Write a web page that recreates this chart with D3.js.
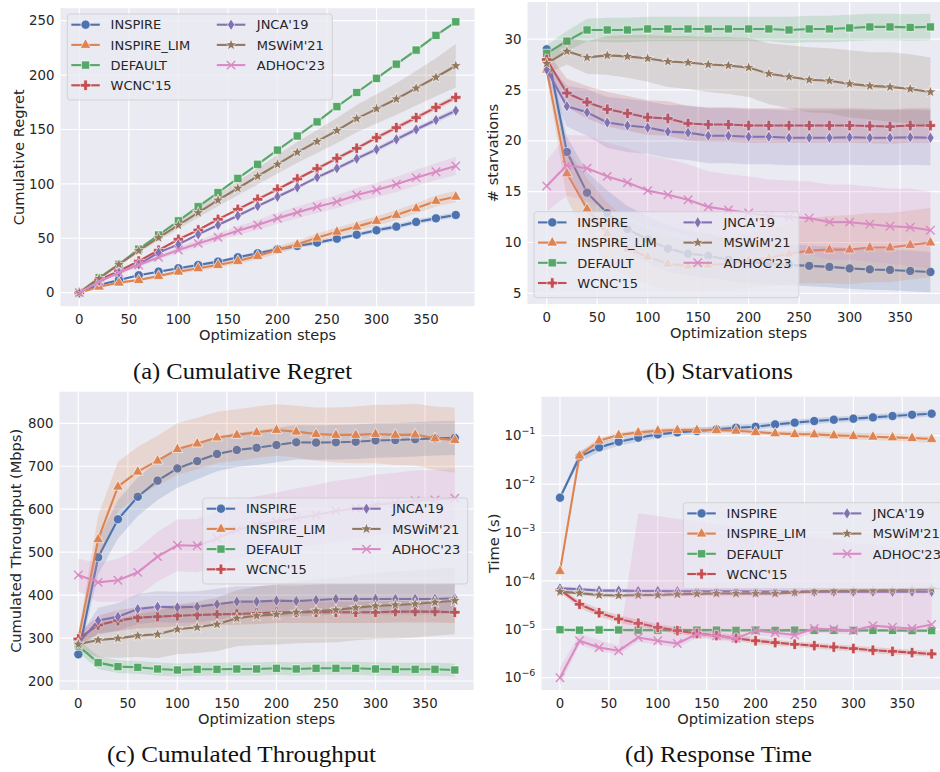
<!DOCTYPE html>
<html><head><meta charset="utf-8">
<script src="https://cdn.jsdelivr.net/npm/d3@7"></script>
<style>body{margin:0;background:#fff}svg{display:block}</style>
</head><body>
<svg id="chart" width="940" height="772"></svg>
<script>
// ---------------- DATA ----------------
const steps = [0,20,40,60,80,100,120,140,160,180,200,220,240,260,280,300,320,340,360,380];
const methods = ["INSPIRE","INSPIRE_LIM","DEFAULT","WCNC'15","JNCA'19","MSWiM'21","ADHOC'23"];
const methodColors = ["#4c72b0","#dd8452","#55a868","#c44e52","#8172b3","#937860","#da8bc3"];
const methodMarkers = ["o","^","s","P","d","*","x"];
const xTicks = [0,50,100,150,200,250,300,350];

// (a) Cumulative Regret
const regretMean = [
  [0.3,7,11.6,16,19.3,22.4,25.4,28.5,32.5,36.2,39.8,42.9,46,49.6,53.3,57.3,60.7,65,68.3,71.4],
  [0,5.5,9.2,11.6,15.3,19.3,22.4,25.4,29.1,33.7,39.2,44.4,50.5,56,60.7,65.9,71.4,77.5,84.3,88.2],
  [0,13.8,26,40,53,66,79,92,105,118,131,144,157,171,184,197,210,223,236.5,249],
  [0,11.6,20,29,39,49,57.6,67.4,76.6,85.8,95,104.5,114,123.5,132.7,142.5,151.7,160.9,170.3,179.5],
  [0,10.7,18.4,26,36.8,44.4,53.6,62.2,70.7,79.6,88.2,96.8,106,114.3,123.2,131.7,140.9,150,158.7,167.3],
  [0,13,26,38.6,50.5,62,73.5,85,96,107,118,129,139,149,160,169,178,188,198,208.6],
  [0,10,18.4,25.4,32.5,39.2,45.3,50.9,57,62.2,68.3,73.8,79,83.6,89.8,94.4,99.6,105.7,111.2,116.4]
];
const regretErr = [
  [0,0.5,0.8,1,1.1,1.2,1.3,1.4,1.5,1.6,1.7,1.8,1.9,2,2,2.1,2.2,2.2,2.3,2.4],
  [0,0.6,1,1.3,1.6,1.9,2.2,2.5,2.8,3.1,3.4,3.6,3.8,4,4.2,4.4,4.6,4.8,5,5.2],
  [0,0.3,0.4,0.5,0.6,0.6,0.7,0.7,0.8,0.8,0.9,0.9,1,1,1,1.1,1.1,1.2,1.2,1.3],
  [0,0.4,0.6,0.8,0.9,1,1.1,1.2,1.3,1.4,1.5,1.6,1.7,1.8,1.9,2,2.1,2.2,2.3,2.4],
  [0,0.5,0.7,0.9,1,1.1,1.2,1.3,1.4,1.5,1.6,1.7,1.8,1.9,2,2.1,2.2,2.3,2.4,2.5],
  [0,0.6,1.2,1.8,2.6,3.5,4.5,5.5,6.5,7.5,8.5,9.5,10.5,11.5,12.5,13.5,14.5,16,17.5,20],
  [0,0.8,1.3,1.8,2.3,2.8,3.3,3.7,4.1,4.5,4.9,5.3,5.7,6,6.3,6.6,7,7.4,7.8,8.2]
];

// (b) Starvations
const starvMean = [
  [29.0,18.9,14.9,12.9,11.3,10.3,9.4,8.9,8.7,8.3,8.1,7.9,7.8,7.7,7.6,7.45,7.35,7.3,7.2,7.1],
  [27.0,16.8,13.3,10.9,9.4,8.6,7.9,7.7,7.8,7.9,8.2,8.5,8.9,9.2,9.3,9.3,9.5,9.5,9.75,10.0],
  [28.6,29.8,30.9,30.9,30.9,31.0,31.0,31.0,31.0,31.0,31.0,31.0,30.9,31.0,31.0,31.1,31.2,31.2,31.15,31.2],
  [28.0,24.7,23.8,23.1,22.7,22.3,22.2,21.7,21.6,21.6,21.5,21.5,21.5,21.5,21.5,21.5,21.45,21.4,21.5,21.5],
  [27.0,23.4,22.8,21.8,21.5,21.3,20.9,20.8,20.5,20.5,20.4,20.4,20.3,20.3,20.3,20.35,20.3,20.3,20.35,20.3],
  [27.6,28.8,28.2,28.4,28.3,28.1,27.8,27.7,27.5,27.4,27.2,26.6,26.3,26.0,25.9,25.6,25.4,25.3,25.1,24.8],
  [15.55,17.6,17.3,16.5,15.9,15.1,14.7,14.2,13.5,13.2,12.9,12.6,12.5,12.4,12.0,12.0,11.8,11.6,11.5,11.2]
];
const starvErr = [
  [0.6,1.5,2,2.2,2.3,2.3,2.3,2.2,2.2,2.1,2.1,2,2,2,2,2,2,2,2,2],
  [0.5,2.5,3,3,2.8,2.7,2.6,2.5,2.5,2.6,2.7,2.8,3,3.2,3.3,3.4,3.4,3.4,3.4,3.4],
  [0.8,1,1.1,1.2,1.2,1.2,1.2,1.2,1.2,1.2,1.2,1.2,1.3,1.3,1.3,1.3,1.3,1.3,1.3,1.3],
  [0.8,1.4,1.6,1.7,1.7,1.7,1.7,1.7,1.7,1.7,1.7,1.7,1.7,1.7,1.7,1.7,1.7,1.7,1.7,1.7],
  [0.8,2,2.3,2.5,2.6,2.6,2.6,2.7,2.7,2.7,2.7,2.7,2.7,2.7,2.7,2.7,2.7,2.7,2.7,2.7],
  [1,1.3,1.6,1.9,2.1,2.3,2.5,2.6,2.7,2.8,2.9,3,3.1,3.2,3.2,3.3,3.3,3.4,3.4,3.4],
  [2.5,3,3.2,3.3,3.4,3.5,3.5,3.5,3.5,3.5,3.6,3.6,3.6,3.6,3.7,3.7,3.7,3.7,3.8,3.8]
];

// (c) Cumulated Throughput
const thrMean = [
  [262,488,576.5,629,666.5,695,712,728.6,738,743,749.5,755.8,755,755.8,757,760,761,763,765,766],
  [297,530,652.5,687.5,713,740,753,767,773,779,784.5,780.6,775,773,773,775,773,773.6,765,761],
  [281.5,242.7,233.4,231.8,227.9,225.6,227.2,227.2,227.9,227.9,229.5,227.9,229.5,229.5,229.5,227.9,227.2,227.2,227.2,225.6],
  [297.8,330.4,340.5,347.5,349.8,352,353.7,355.2,356,357.6,360,360,360,360,360,360,361.4,361.4,361.4,360],
  [287.7,340.5,349.8,367.6,373,371.5,373,378.5,384.7,384.7,387,386,388.6,391,391,391,391,391,391,392.5],
  [285.4,295.5,299.3,305.6,308.7,320.3,325,332,346,352,355.2,360,363,365.3,370.8,374.6,377,379.3,383.2,387],
  [446.8,429.7,434.4,453,489.5,516,515,532,551.6,563,571,579,586.5,596,602,610,615,620,621.5,625.4]
];
const thrErr = [
  [15,40,45,45,45,45,42,40,40,40,40,40,40,40,40,40,40,40,40,40],
  [15,55,58,58,58,60,60,60,60,60,60,60,62,64,66,68,70,72,74,76],
  [15,15,15,15,15,15,15,15,15,15,15,15,15,15,15,15,15,15,15,15],
  [12,22,24,25,25,25,25,25,25,25,25,25,25,25,25,25,25,25,25,25],
  [12,30,32,35,36,36,36,36,36,36,36,36,36,36,36,36,36,36,36,36],
  [12,40,45,50,55,58,60,62,65,68,70,72,74,75,76,77,78,78,78,78],
  [38,45,50,55,58,60,62,64,66,67,68,69,70,70,70,70,70,70,70,70]
];

// (d) Response Time (seconds, log scale)
const timeMean = [
  [0.00524,0.0368,0.0574,0.0752,0.091,0.1066,0.117,0.125,0.135,0.146,0.153,0.171,0.186,0.201,0.214,0.225,0.239,0.255,0.271,0.285],
  [0.00016,0.0386,0.0788,0.103,0.117,0.127,0.131,0.131,0.131,0.127,0.119,0.112,0.108,0.1066,0.1016,0.0984,0.0953,0.0924,0.0895,0.0853],
  [9.8e-6,9.6e-6,9.7e-6,9.7e-6,9.6e-6,9.6e-6,9.6e-6,9.6e-6,9.6e-6,9.5e-6,9.6e-6,9.5e-6,9.6e-6,9.5e-6,9.5e-6,9.5e-6,9.5e-6,9.5e-6,9.4e-6,9.4e-6],
  [6.5e-5,3.3e-5,2.2e-5,1.63e-5,1.33e-5,1.1e-5,9.4e-6,8.2e-6,7.4e-6,6.5e-6,5.8e-6,5.3e-6,4.9e-6,4.6e-6,4.3e-6,4.0e-6,3.7e-6,3.5e-6,3.3e-6,3.1e-6],
  [7.0e-5,6.7e-5,6.3e-5,6.3e-5,6.2e-5,6.2e-5,6.1e-5,6.1e-5,6.1e-5,6.1e-5,6.0e-5,6.0e-5,6.0e-5,6.0e-5,6.0e-5,6.0e-5,6.0e-5,6.0e-5,6.0e-5,6.0e-5],
  [6.0e-5,5.6e-5,5.1e-5,5.0e-5,5.1e-5,5.1e-5,5.3e-5,5.4e-5,5.5e-5,5.5e-5,5.5e-5,5.5e-5,5.8e-5,6.1e-5,6.2e-5,6.3e-5,6.4e-5,6.5e-5,6.7e-5,6.9e-5],
  [1.0e-6,5.8e-6,4.2e-6,3.6e-6,6.8e-6,5.8e-6,5.1e-6,8.0e-6,7.3e-6,6.5e-6,9.4e-6,8.5e-6,7.6e-6,1.04e-5,1.0e-5,9.4e-6,1.19e-5,1.1e-5,1.04e-5,1.26e-5]
];
const timeLow = [
  [0.0048,0.029,0.046,0.062,0.076,0.089,0.099,0.107,0.116,0.127,0.133,0.149,0.162,0.175,0.186,0.196,0.208,0.222,0.236,0.248],
  [0.00015,0.032,0.068,0.092,0.104,0.113,0.117,0.117,0.117,0.113,0.106,0.099,0.095,0.093,0.088,0.084,0.081,0.078,0.075,0.071],
  [9.1e-6,8.9e-6,9.0e-6,9.0e-6,8.9e-6,8.9e-6,8.9e-6,8.9e-6,8.9e-6,8.8e-6,8.9e-6,8.8e-6,8.9e-6,8.8e-6,8.8e-6,8.8e-6,8.8e-6,8.8e-6,8.7e-6,8.7e-6],
  [5.9e-5,2.75e-5,1.83e-5,1.36e-5,1.13e-5,9.4e-6,8.1e-6,7.1e-6,6.4e-6,5.7e-6,5.0e-6,4.6e-6,4.3e-6,4.0e-6,3.7e-6,3.5e-6,3.2e-6,3.0e-6,2.9e-6,2.7e-6],
  [6.4e-5,6.1e-5,5.7e-5,5.7e-5,5.6e-5,5.6e-5,5.5e-5,5.5e-5,5.5e-5,5.5e-5,5.5e-5,5.5e-5,5.5e-5,5.5e-5,5.5e-5,5.5e-5,5.5e-5,5.5e-5,5.5e-5,5.5e-5],
  [5.5e-5,5.1e-5,4.6e-5,4.5e-5,4.6e-5,4.6e-5,4.8e-5,4.9e-5,5.0e-5,5.0e-5,5.0e-5,5.0e-5,5.3e-5,5.5e-5,5.6e-5,5.7e-5,5.8e-5,5.9e-5,6.1e-5,6.3e-5],
  [7e-7,4.8e-6,3.5e-6,3e-6,5.5e-6,4.8e-6,4.2e-6,6.5e-6,6e-6,5.4e-6,7.5e-6,7e-6,6.3e-6,8.5e-6,8.3e-6,7.8e-6,9.8e-6,9.1e-6,8.6e-6,1.0e-5]
];
const timeHigh = [
  [0.0057,0.047,0.072,0.092,0.109,0.128,0.138,0.146,0.157,0.168,0.176,0.197,0.214,0.231,0.246,0.259,0.275,0.293,0.312,0.328],
  [0.00017,0.046,0.091,0.115,0.131,0.142,0.147,0.147,0.147,0.142,0.133,0.127,0.123,0.123,0.118,0.115,0.112,0.109,0.106,0.102],
  [1.06e-5,1.04e-5,1.05e-5,1.05e-5,1.04e-5,1.04e-5,1.04e-5,1.04e-5,1.04e-5,1.03e-5,1.04e-5,1.03e-5,1.04e-5,1.03e-5,1.03e-5,1.03e-5,1.03e-5,1.03e-5,1.02e-5,1.02e-5],
  [7.2e-5,3.95e-5,2.65e-5,1.95e-5,1.57e-5,1.29e-5,1.09e-5,9.4e-6,8.5e-6,7.5e-6,6.7e-6,6.1e-6,5.6e-6,5.3e-6,4.9e-6,4.6e-6,4.3e-6,4.0e-6,3.8e-6,3.6e-6],
  [7.7e-5,7.4e-5,6.9e-5,6.9e-5,6.8e-5,6.8e-5,6.7e-5,6.7e-5,6.7e-5,6.7e-5,6.6e-5,6.6e-5,6.6e-5,6.6e-5,6.6e-5,6.6e-5,6.6e-5,6.6e-5,6.6e-5,6.6e-5],
  [6.6e-5,6.2e-5,5.6e-5,5.5e-5,5.6e-5,5.6e-5,5.8e-5,5.9e-5,6.0e-5,6.0e-5,6.0e-5,6.0e-5,6.4e-5,6.7e-5,6.8e-5,6.9e-5,7.0e-5,7.2e-5,7.4e-5,7.6e-5],
  [1.6e-6,8e-6,6e-6,4.5e-6,2.5e-3,2.2e-3,1.9e-3,1.7e-3,1.5e-3,1.3e-3,1.15e-3,1.0e-3,9e-4,8e-4,7e-4,6.2e-4,5.5e-4,5e-4,4.5e-4,4e-4]
];

// ---------------- DRAWING ----------------
const svg = d3.select("#chart");
const FONT = "'DejaVu Sans', sans-serif";
const TXT = "#262626";

function markerPath(m){
  switch(m){
    case "o": { const r=4.6; return `M${r},0A${r},${r} 0 1,1 ${-r},0A${r},${r} 0 1,1 ${r},0Z`; }
    case "^": return "M0,-6.2L5.4,3.4L-5.4,3.4Z";
    case "s": { const h=4.1; return `M${-h},${-h}H${h}V${h}H${-h}Z`; }
    case "P": { const a=1.8,b=5.2; return `M${-a},${-b}H${a}V${-a}H${b}V${a}H${a}V${b}H${-a}V${a}H${-b}V${-a}H${-a}Z`; }
    case "d": return "M0,-5.8L3.6,0L0,5.8L-3.6,0Z";
    case "*": { let p=[]; for(let i=0;i<10;i++){ const r=i%2?2.5:6.2; const ang=-Math.PI/2+i*Math.PI/5; p.push([r*Math.cos(ang),r*Math.sin(ang)]);} return "M"+p.map(q=>q[0].toFixed(2)+","+q[1].toFixed(2)).join("L")+"Z"; }
    case "x": { const h=4.2; return `M${-h},${-h}L${h},${h}M${-h},${h}L${h},${-h}`; }
  }
}
function drawMarker(g, m, color, x, y){
  const p = g.append("path").attr("d", markerPath(m)).attr("transform", `translate(${x},${y})`);
  if (m === "x") p.attr("fill","none").attr("stroke",color).attr("stroke-width",1.4);
  else p.attr("fill",color).attr("stroke","#ffffff").attr("stroke-width",0.7).attr("stroke-opacity",0.9);
}

let clipId = 0;
function panel(cfg){
  const g = svg.append("g");
  const x = d3.scaleLinear().domain([-19,399]).range([cfg.left, cfg.right]);
  const y = (cfg.log ? d3.scaleLog() : d3.scaleLinear()).domain(cfg.yDomain).range([cfg.bottom, cfg.top]);
  const id = "clip"+(clipId++);
  svg.append("clipPath").attr("id",id).append("rect")
    .attr("x",cfg.left).attr("y",cfg.top).attr("width",cfg.right-cfg.left).attr("height",cfg.bottom-cfg.top);
  g.append("rect").attr("x",cfg.left).attr("y",cfg.top).attr("width",cfg.right-cfg.left).attr("height",cfg.bottom-cfg.top).attr("fill","#eaeaf2");
  const grid = g.append("g").attr("clip-path",`url(#${id})`);
  grid.selectAll("line.vx").data(xTicks).join("line").attr("x1",d=>x(d)).attr("x2",d=>x(d))
    .attr("y1",cfg.top).attr("y2",cfg.bottom).attr("stroke","#fff").attr("stroke-width",1.2);
  grid.selectAll("line.hy").data(cfg.yTicks).join("line").attr("y1",d=>y(d)).attr("y2",d=>y(d))
    .attr("x1",cfg.left).attr("x2",cfg.right).attr("stroke","#fff").attr("stroke-width",1.2);

  // x tick labels
  g.selectAll("text.xt").data(xTicks).join("text").attr("x",d=>x(d)).attr("y",cfg.bottom+18)
    .attr("text-anchor","middle").attr("font-family",FONT).attr("font-size",13.3).attr("fill",TXT).text(d=>d);
  // y tick labels
  const yt = g.selectAll("text.yt").data(cfg.yTicks).join("text").attr("x",cfg.left-6).attr("y",d=>y(d)+4.7)
    .attr("text-anchor","end").attr("font-family",FONT).attr("font-size",13.3).attr("fill",TXT);
  if (cfg.log) {
    yt.each(function(d){
      const e = Math.round(Math.log10(d));
      const t = d3.select(this);
      t.append("tspan").text("10");
      t.append("tspan").attr("dy",-6).attr("font-size",9.5).text("\u2212"+Math.abs(e));
    });
  } else yt.text(d=>d);

  // axis labels
  g.append("text").attr("x",(cfg.left+cfg.right)/2).attr("y",cfg.bottom+34).attr("text-anchor","middle")
    .attr("font-family",FONT).attr("font-size",14.6).attr("fill",TXT).text("Optimization steps");
  g.append("text").attr("transform",`translate(${cfg.ylabelX},${(cfg.top+cfg.bottom)/2}) rotate(-90)`)
    .attr("text-anchor","middle").attr("dy","0.35em").attr("font-family",FONT).attr("font-size",14.6).attr("fill",TXT).text(cfg.ylabel);

  // series
  const plot = g.append("g").attr("clip-path",`url(#${id})`);
  methods.forEach((name,i)=>{
    const col = methodColors[i];
    const pts = steps.map((s,j)=>({s, v:cfg.mean[i][j], lo:cfg.lo(i,j), hi:cfg.hi(i,j)}));
    plot.append("path").datum(pts)
      .attr("d", d3.area().x(d=>x(d.s)).y0(d=>y(d.lo)).y1(d=>y(d.hi)))
      .attr("fill",col).attr("fill-opacity",0.2);
    plot.append("path").datum(pts)
      .attr("d", d3.line().x(d=>x(d.s)).y(d=>y(d.v)))
      .attr("fill","none").attr("stroke",col).attr("stroke-width",2.1).attr("stroke-linejoin","round");
    const mg = plot.append("g");
    pts.forEach(d=>drawMarker(mg, methodMarkers[i], col, x(d.s), y(d.v)));
  });

  // legend
  const L = cfg.legend;
  const lg = g.append("g");
  lg.append("rect").attr("x",L.x).attr("y",L.y).attr("width",265).attr("height",86).attr("rx",3)
    .attr("fill","#eaeaf2").attr("fill-opacity",0.8).attr("stroke","#cccccc").attr("stroke-opacity",0.8).attr("stroke-width",1);
  methods.forEach((name,i)=>{
    const col = i<4 ? 0 : 1, row = i<4 ? i : i-4;
    const ry = L.y + 10.7 + 20.2*row;
    const hx0 = L.x + (col ? 149.5 : 4), hx1 = hx0 + 28.5;
    lg.append("line").attr("x1",hx0).attr("x2",hx1).attr("y1",ry).attr("y2",ry)
      .attr("stroke",methodColors[i]).attr("stroke-width",2.1);
    drawMarker(lg, methodMarkers[i], methodColors[i], (hx0+hx1)/2, ry);
    lg.append("text").attr("x",L.x + (col ? 189.5 : 43.3)).attr("y",ry+4.7)
      .attr("font-family",FONT).attr("font-size",13).attr("fill",TXT).text(name);
  });

  // caption
  svg.append("text").attr("x",cfg.capX).attr("y",cfg.capY).attr("text-anchor","middle")
    .attr("font-family","'Liberation Serif', 'DejaVu Serif', serif").attr("font-size",24).attr("fill","#111")
    .attr("textLength",cfg.capW).attr("lengthAdjust","spacingAndGlyphs").text(cfg.caption);
}

panel({left:60.5,right:474.6,top:8.2,bottom:306.2,yDomain:[-12.45,261.5],yTicks:[0,50,100,150,200,250],
  mean:regretMean, lo:(i,j)=>regretMean[i][j]-regretErr[i][j], hi:(i,j)=>regretMean[i][j]+regretErr[i][j],
  ylabel:"Cumulative Regret", ylabelX:18.5, legend:{x:67.3,y:14},
  caption:"(a) Cumulative Regret", capX:242.5, capY:379, capW:219});

panel({left:527.5,right:949.6,top:2,bottom:304,yDomain:[3.95,33.65],yTicks:[5,10,15,20,25,30],
  mean:starvMean, lo:(i,j)=>starvMean[i][j]-starvErr[i][j], hi:(i,j)=>starvMean[i][j]+starvErr[i][j],
  ylabel:"# starvations", ylabelX:493, legend:{x:534,y:211.7},
  caption:"(b) Starvations", capX:719.5, capY:379, capW:147});

panel({left:59.5,right:473.6,top:391.7,bottom:690,yDomain:[179,873.6],yTicks:[200,300,400,500,600,700,800],
  mean:thrMean, lo:(i,j)=>thrMean[i][j]-thrErr[i][j], hi:(i,j)=>thrMean[i][j]+thrErr[i][j],
  ylabel:"Cumulated Throughput (Mbps)", ylabelX:16, legend:{x:202.7,y:498},
  caption:"(c) Cumulated Throughput", capX:241.5, capY:762, capW:269});

panel({left:541.4,right:950.2,top:396.7,bottom:690,log:true,yDomain:[Math.pow(10,-6.254),Math.pow(10,-0.194)],
  yTicks:[1e-6,1e-5,1e-4,1e-3,1e-2,1e-1],
  mean:timeMean, lo:(i,j)=>timeLow[i][j], hi:(i,j)=>timeHigh[i][j],
  ylabel:"Time (s)", ylabelX:494, legend:{x:683.3,y:502.7},
  caption:"(d) Response Time", capX:718.5, capY:762, capW:187});
</script>
</body></html>
